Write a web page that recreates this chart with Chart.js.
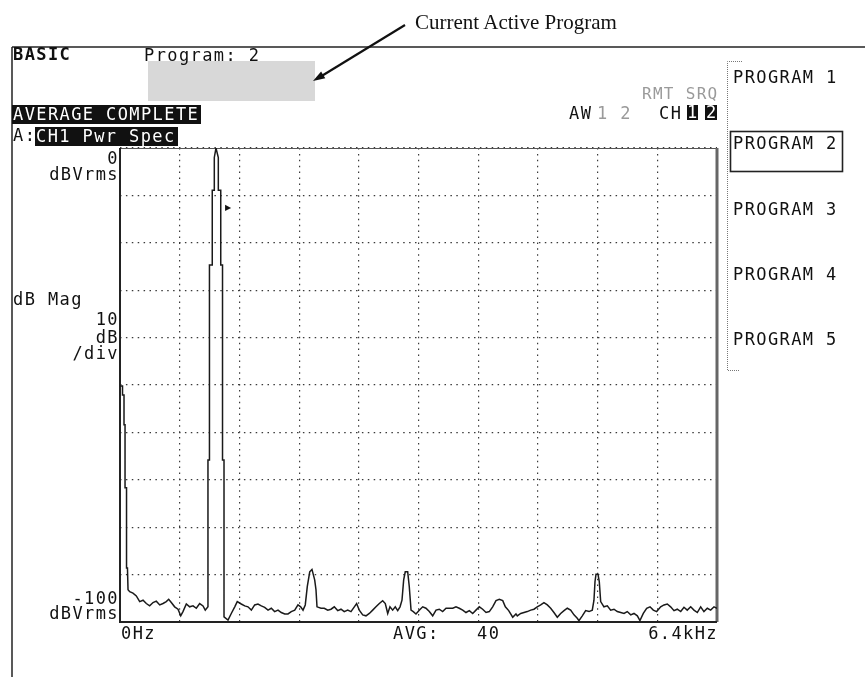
<!DOCTYPE html>
<html>
<head>
<meta charset="utf-8">
<script src="https://cdn.jsdelivr.net/npm/chart.js@4.4.1/dist/chart.umd.min.js"></script>
<style>
html, body { margin: 0; padding: 0; background: #fff; }
#wrap { position: relative; width: 865px; height: 681px; overflow: hidden; }
#c { position: absolute; left: 0; top: 0; }
.t { position: absolute; font-family: 'DejaVu Sans Mono', monospace; font-size: 17px; line-height: 17px;
     letter-spacing: 1.4px; color: #111; white-space: pre; }
.r { text-align: right; right: 746px; }
.box { position: absolute; background: #111; }
.inv { color: #fff; }
.dim { color: #9a9a9a; }
.note { position: absolute; left: 415px; top: 10px; font-family: 'Liberation Serif', serif; font-size: 21px; color: #111; white-space: pre; }
</style>
</head>
<body>
<div id="wrap">
  <canvas id="c" width="865" height="681"></canvas>

  <!-- frame lines and callout -->
  <svg width="865" height="681" style="position:absolute;left:0;top:0;pointer-events:none">
    <line x1="12" y1="47" x2="865" y2="47" stroke="#222" stroke-width="1.5"/>
    <line x1="12" y1="47" x2="12" y2="677" stroke="#222" stroke-width="1.5"/>
    <rect x="148" y="61" width="167" height="40" fill="#d8d8d8"/>
    <line x1="405" y1="25" x2="320" y2="77" stroke="#111" stroke-width="2.2"/>
    <polygon points="313,81 325.3,78.2 321.1,71.4" fill="#111"/>
    <path d="M742 61.5 H727.5 V370.5 H740" fill="none" stroke="#777" stroke-width="1" stroke-dasharray="1,1"/>
    <rect x="730.5" y="131.5" width="112" height="40" fill="none" stroke="#222" stroke-width="1.6"/>
  </svg>

  <div class="note">Current Active Program</div>

  <div class="t" style="left:13px;top:46px;font-weight:bold">BASIC</div>
  <div class="t" style="left:144px;top:47px">Program: 2</div>

  <div class="box" style="left:12px;top:105px;width:189px;height:19px"></div>
  <div class="t inv" style="left:13px;top:105.5px">AVERAGE COMPLETE</div>
  <div class="t" style="left:13px;top:127px">A:</div>
  <div class="box" style="left:35px;top:127px;width:143px;height:19px"></div>
  <div class="t inv" style="left:36px;top:128px">CH1 Pwr Spec</div>

  <div class="t dim" style="left:642px;top:85px;font-size:16px;letter-spacing:1.3px">RMT SRQ</div>
  <div class="t" style="left:569px;top:105px">AW</div>
  <div class="t dim" style="left:597px;top:105px">1 2</div>
  <div class="t" style="left:659px;top:105px">CH</div>
  <div class="box" style="left:687px;top:105px;width:11px;height:15px"></div>
  <div class="box" style="left:705px;top:105px;width:12px;height:15px"></div>
  <div class="t inv" style="left:687px;top:104px">1</div>
  <div class="t inv" style="left:706px;top:104px">2</div>

  <div id="keys"></div>
  <div id="labels"></div>
</div>

<script>
// Softkey menu
const softKeys = ['PROGRAM 1', 'PROGRAM 2', 'PROGRAM 3', 'PROGRAM 4', 'PROGRAM 5'];
const softKeyTops = [69, 135, 201, 266, 331];

// Axis labels
const yTopLabels = ['0', 'dBVrms'];
const yMidLabels = ['10', 'dB', '/div'];
const yBottomLabels = ['-100', 'dBVrms'];
const yTitle = 'dB Mag';
const xStartLabel = '0Hz';
const xEndLabel = '6.4kHz';
const avgLabel = 'AVG:';
const avgCount = '40';

// Trace: frequency (Hz) and magnitude (dBVrms)
const freqHz = [
  0, 27, 27, 43, 43, 54, 54, 70, 70, 80, 86, 104, 139, 175, 211, 247, 282, 318, 354, 389,
  426, 461, 496, 522, 550, 586, 622, 651, 675, 711, 747, 783, 818, 854, 890, 914, 943, 943, 959, 959,
  989, 989, 1011, 1011, 1029, 1054, 1054, 1080, 1080, 1099, 1099, 1115, 1115, 1158, 1193, 1230, 1257, 1300, 1337, 1372,
  1408, 1444, 1479, 1515, 1551, 1587, 1622, 1658, 1694, 1729, 1766, 1801, 1836, 1873, 1908, 1937, 1962, 1986, 2008, 2034,
  2058, 2087, 2101, 2112, 2119, 2155, 2190, 2227, 2262, 2297, 2334, 2369, 2404, 2441, 2476, 2512, 2537, 2565, 2602, 2637,
  2673, 2709, 2744, 2780, 2816, 2844, 2870, 2894, 2923, 2951, 2977, 3002, 3023, 3041, 3058, 3084, 3101, 3120, 3144, 3173,
  3208, 3245, 3280, 3316, 3352, 3388, 3423, 3459, 3495, 3530, 3567, 3602, 3637, 3674, 3709, 3745, 3781, 3816, 3852, 3888,
  3924, 3959, 3995, 4031, 4066, 4103, 4131, 4167, 4210, 4245, 4259, 4296, 4331, 4366, 4403, 4438, 4473, 4510, 4545, 4581,
  4617, 4652, 4688, 4724, 4760, 4795, 4831, 4867, 4902, 4920, 4956, 4992, 5028, 5063, 5081, 5092, 5103, 5124, 5138, 5153,
  5188, 5224, 5260, 5296, 5331, 5368, 5403, 5438, 5475, 5510, 5546, 5574, 5610, 5646, 5682, 5717, 5753, 5796, 5832, 5867,
  5903, 5939, 5974, 6011, 6046, 6081, 6118, 6153, 6189, 6225, 6260, 6296, 6332, 6368, 6400
];
const magDb = [
  -50.2, -50.2, -52.1, -52.1, -58.4, -58.4, -71.7, -71.7, -88.6, -88.6, -93.2, -93.6, -93.9, -94.5, -95.7, -95.4, -96.1, -96.6, -95.9, -95.6,
  -96.4, -96.1, -95.7, -95.2, -95.9, -96.8, -97.3, -98.7, -97.8, -96.2, -96.8, -96.6, -97.1, -96.1, -96.6, -97.5, -96.8, -65.8, -65.8, -24.7,
  -24.7, -8.9, -8.9, -2.0, 0, -2.0, -8.9, -8.9, -24.7, -24.7, -65.8, -65.8, -98.9, -99.6, -98.2, -96.8, -95.7, -96.2, -96.6, -96.8,
  -97.5, -96.4, -96.2, -96.6, -96.9, -97.5, -97.1, -97.8, -97.5, -98.0, -98.3, -98.3, -97.8, -97.5, -96.4, -96.8, -97.5, -96.4, -92.5, -89.4,
  -88.9, -91.1, -93.2, -96.8, -96.8, -97.1, -97.1, -97.5, -97.3, -96.8, -97.6, -97.3, -97.8, -97.5, -97.8, -96.8, -96.1, -97.5, -98.5, -98.7,
  -98.2, -97.5, -96.8, -96.1, -95.5, -96.1, -98.2, -96.8, -97.5, -96.8, -97.6, -96.8, -95.4, -91.1, -89.4, -89.4, -92.5, -97.5, -97.8, -98.3,
  -97.5, -96.8, -97.1, -97.8, -98.7, -97.5, -97.3, -97.8, -97.1, -97.1, -97.1, -96.8, -97.1, -97.5, -98.0, -97.6, -98.2, -97.5, -96.8, -97.3,
  -98.0, -97.8, -96.8, -95.5, -95.2, -95.5, -96.8, -97.6, -99.0, -98.3, -98.7, -98.2, -98.0, -97.8, -97.5, -97.3, -96.8, -96.4, -95.9, -96.4,
  -97.1, -98.0, -99.0, -98.2, -97.6, -97.1, -97.5, -98.5, -99.2, -99.7, -98.7, -97.6, -97.8, -97.5, -95.4, -91.5, -89.9, -89.9, -91.5, -95.7,
  -96.8, -96.6, -97.5, -97.3, -97.8, -98.0, -98.2, -97.8, -98.5, -98.2, -98.7, -99.7, -98.2, -97.1, -96.8, -97.5, -97.8, -96.8, -96.4, -96.2,
  -96.8, -97.6, -97.3, -97.8, -96.9, -97.5, -96.8, -97.5, -98.0, -96.8, -97.8, -97.1, -97.5, -96.8, -97.1
];

// Build HTML text
function addText(parent, txt, style, cls) {
  const d = document.createElement('div');
  d.className = 't' + (cls ? ' ' + cls : '');
  d.textContent = txt;
  d.setAttribute('style', style);
  parent.appendChild(d);
}

const keys = document.getElementById('keys');
softKeys.forEach((k, i) => addText(keys, k, 'left:733px;top:' + softKeyTops[i] + 'px'));

const labels = document.getElementById('labels');
addText(labels, yTopLabels[0], 'top:150px', 'r');
addText(labels, yTopLabels[1], 'top:166px', 'r');
addText(labels, yTitle, 'left:13px;top:291px');
addText(labels, yMidLabels[0], 'top:311px', 'r');
addText(labels, yMidLabels[1], 'top:329px', 'r');
addText(labels, yMidLabels[2], 'top:345px', 'r');
addText(labels, yBottomLabels[0], 'top:590px', 'r');
addText(labels, yBottomLabels[1], 'top:605px', 'r');
addText(labels, xStartLabel, 'left:121px;top:625px');
addText(labels, avgLabel, 'left:393px;top:625px');
addText(labels, avgCount, 'left:477px;top:625px');
addText(labels, xEndLabel, 'right:147px;top:625px;text-align:right');
addText(labels, '\u25B6', 'left:225px;top:199px;font-family:DejaVu Sans;font-size:8px;letter-spacing:0');

// Plot frame
const frame = {
  id: 'frame',
  beforeDatasetsDraw(chart) {
    const { ctx, chartArea: a } = chart;
    ctx.save();
    ctx.strokeStyle = '#555';
    ctx.lineWidth = 1;
    ctx.beginPath();
    ctx.moveTo(a.left, a.top + 0.5);
    ctx.lineTo(a.right, a.top + 0.5);
    ctx.stroke();
    ctx.strokeStyle = '#666';
    ctx.lineWidth = 3;
    ctx.beginPath();
    ctx.moveTo(a.right, a.top);
    ctx.lineTo(a.right, a.bottom);
    ctx.stroke();
    ctx.strokeStyle = '#222';
    ctx.lineWidth = 2;
    ctx.beginPath();
    ctx.moveTo(a.left, a.top);
    ctx.lineTo(a.left, a.bottom);
    ctx.lineTo(a.right, a.bottom);
    ctx.stroke();
    ctx.restore();
  }
};

new Chart(document.getElementById('c'), {
  type: 'scatter',
  data: {
    datasets: [{
      data: freqHz.map((f, i) => ({ x: f, y: magDb[i] })),
      showLine: true,
      borderColor: '#1a1a1a',
      borderWidth: 1.5,
      pointRadius: 0,
      tension: 0
    }]
  },
  options: {
    responsive: false,
    animation: false,
    devicePixelRatio: 1,
    layout: { padding: { left: 120, top: 148, right: 148, bottom: 59 } },
    plugins: { legend: { display: false }, tooltip: { enabled: false } },
    scales: {
      x: {
        type: 'linear', min: 0, max: 6400,
        ticks: { display: false, stepSize: 640 },
        grid: { color: '#3a3a3a', lineWidth: 1.2, drawTicks: false },
        border: { display: false, dash: [1.5, 4.4] }
      },
      y: {
        type: 'linear', min: -100, max: 0,
        ticks: { display: false, stepSize: 10 },
        grid: { color: '#3a3a3a', lineWidth: 1.2, drawTicks: false },
        border: { display: false, dash: [1.5, 4.4] }
      }
    }
  },
  plugins: [frame]
});
</script>
</body>
</html>
